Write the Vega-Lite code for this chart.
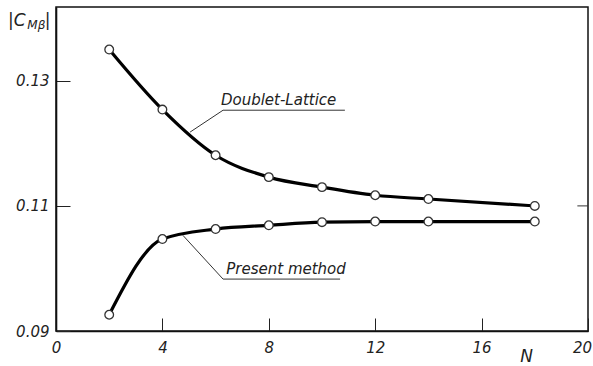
{
  "$schema": "https://vega.github.io/schema/vega-lite/v6.json",
  "width": 532,
  "height": 324,
  "autosize": {"type": "none"},
  "padding": {"left": 56, "top": 7, "right": 5, "bottom": 35},
  "background": "white",
  "config": {
    "view": {"stroke": "#111", "strokeWidth": 1.5},
    "font": "DejaVu Sans",
    "axis": {
      "domainColor": "#111", "domainWidth": 1.6, "grid": false,
      "tickColor": "#222", "tickWidth": 1,
      "labelFont": "DejaVu Sans", "labelFontStyle": "italic", "labelFontSize": 15,
      "labelColor": "#222", "title": null
    }
  },
  "datasets": {
    "curves": [
      {"series": "Doublet-Lattice", "N": 2, "C": 0.1350},
      {"series": "Doublet-Lattice", "N": 4, "C": 0.1254},
      {"series": "Doublet-Lattice", "N": 6, "C": 0.1181},
      {"series": "Doublet-Lattice", "N": 8, "C": 0.1146},
      {"series": "Doublet-Lattice", "N": 10, "C": 0.1130},
      {"series": "Doublet-Lattice", "N": 12, "C": 0.1117},
      {"series": "Doublet-Lattice", "N": 14, "C": 0.1111},
      {"series": "Doublet-Lattice", "N": 18, "C": 0.1100},
      {"series": "Present method", "N": 2, "C": 0.0926},
      {"series": "Present method", "N": 4, "C": 0.1047},
      {"series": "Present method", "N": 6, "C": 0.1063},
      {"series": "Present method", "N": 8, "C": 0.1069},
      {"series": "Present method", "N": 10, "C": 0.1074},
      {"series": "Present method", "N": 12, "C": 0.1075},
      {"series": "Present method", "N": 14, "C": 0.1075},
      {"series": "Present method", "N": 18, "C": 0.1075}
    ],
    "rules": [
      {"x": 5.04, "y": 0.1218, "x2": 6.28, "y2": 0.1253},
      {"x": 6.28, "y": 0.1253, "x2": 10.86, "y2": 0.1253},
      {"x": 4.77, "y": 0.1053, "x2": 6.28, "y2": 0.0983},
      {"x": 6.28, "y": 0.0983, "x2": 10.68, "y2": 0.0983},
      {"x": 19.6, "y": 0.11, "x2": 20, "y2": 0.11}
    ]
  },
  "layer": [
    {
      "data": {"name": "curves"},
      "mark": {"type": "line", "interpolate": "monotone", "color": "#000", "strokeWidth": 3.2, "strokeCap": "round"},
      "encoding": {
        "x": {"field": "N", "type": "quantitative",
              "scale": {"domain": [0, 20], "nice": false, "zero": false},
              "axis": {"values": [0, 4, 8, 12, 16, 20], "tickSize": -13, "labelPadding": 22, "labelFlush": false,
                       "labelOffset": {"condition": {"test": "datum.value == 20", "value": -6}, "value": 0}}},
        "y": {"field": "C", "type": "quantitative",
              "scale": {"domain": [0.09, 0.1418], "nice": false, "zero": false},
              "axis": {"values": [0.09, 0.11, 0.13], "format": ".2f", "tickSize": -14, "labelPadding": 21}},
        "detail": {"field": "series"}
      }
    },
    {
      "data": {"name": "rules"},
      "mark": {"type": "rule", "color": "#333", "strokeWidth": 1},
      "encoding": {
        "x": {"field": "x", "type": "quantitative"},
        "y": {"field": "y", "type": "quantitative"},
        "x2": {"field": "x2"},
        "y2": {"field": "y2"}
      }
    },
    {
      "data": {"name": "curves"},
      "mark": {"type": "circle", "size": 75, "fill": "white", "stroke": "#333", "strokeWidth": 1.3, "opacity": 1},
      "encoding": {
        "x": {"field": "N", "type": "quantitative"},
        "y": {"field": "C", "type": "quantitative"}
      }
    },
    {
      "data": {"values": [
        {"x": 6.2, "y": 0.1262, "text": "Doublet-Lattice"},
        {"x": 6.4, "y": 0.0991, "text": "Present method"}
      ]},
      "mark": {"type": "text", "align": "left", "baseline": "alphabetic", "font": "DejaVu Sans", "fontStyle": "italic", "fontSize": 15, "color": "#222"},
      "encoding": {
        "x": {"field": "x", "type": "quantitative"},
        "y": {"field": "y", "type": "quantitative"},
        "text": {"field": "text"}
      }
    },
    {
      "data": {"values": [
        {"x": 17.45, "y": 0.0851, "text": "N"},
        {"x": -1.8, "y": 0.1388, "text": "|C"},
        {"x": -0.42, "y": 0.1388, "text": "|"}
      ]},
      "mark": {"type": "text", "align": "left", "baseline": "alphabetic", "font": "DejaVu Sans", "fontStyle": "italic", "fontSize": 17, "color": "#222"},
      "encoding": {
        "x": {"field": "x", "type": "quantitative"},
        "y": {"field": "y", "type": "quantitative"},
        "text": {"field": "text"}
      }
    },
    {
      "data": {"values": [
        {"x": -1.08, "y": 0.1383, "text": "Mβ"}
      ]},
      "mark": {"type": "text", "align": "left", "baseline": "alphabetic", "font": "DejaVu Sans", "fontStyle": "italic", "fontSize": 12, "color": "#222"},
      "encoding": {
        "x": {"field": "x", "type": "quantitative"},
        "y": {"field": "y", "type": "quantitative"},
        "text": {"field": "text"}
      }
    }
  ]
}
